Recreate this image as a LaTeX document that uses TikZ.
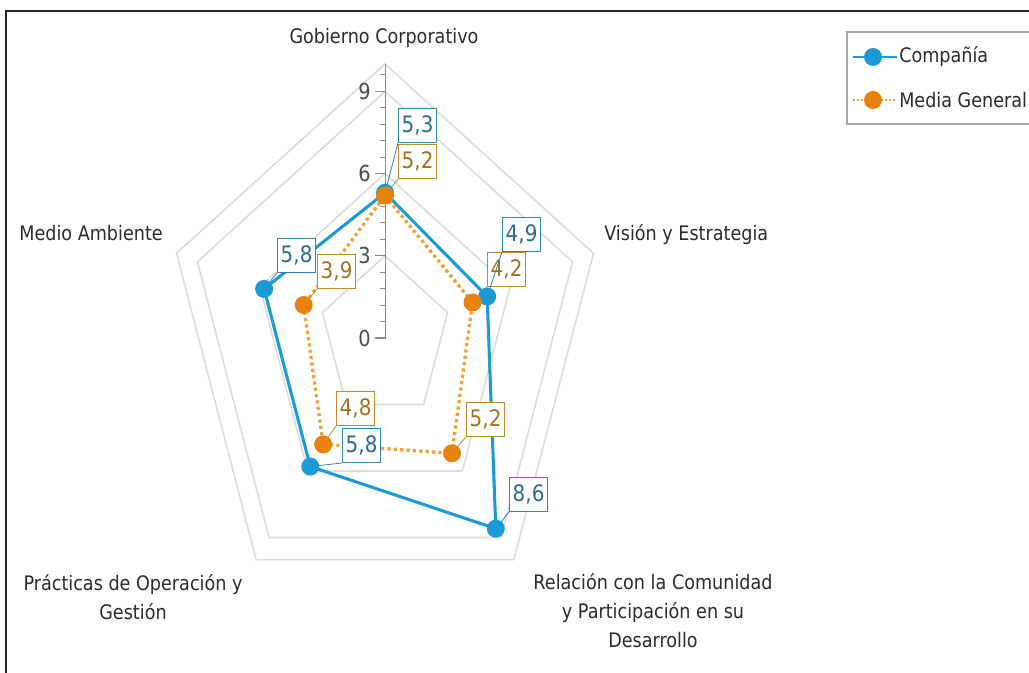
\documentclass[tikz,border=0pt]{standalone}
\usepackage{fontspec}
\setmainfont{DejaVu Sans}[FakeStretch=0.88]
\definecolor{cblue}{HTML}{1C9AD6}
\definecolor{corange}{HTML}{E8820E}
\definecolor{cdot}{HTML}{F0A23A}
\definecolor{bbox}{HTML}{2E87A6}
\definecolor{btext}{HTML}{2A6E88}
\definecolor{obox}{HTML}{BF8A2E}
\definecolor{otext}{HTML}{9C7424}
\definecolor{gridc}{HTML}{DCDCDC}
\definecolor{txt}{HTML}{2C2C2C}
\definecolor{axisc}{HTML}{8A8A8A}
\begin{document}
\begin{tikzpicture}[x=0.75pt,y=-0.75pt,
  font=\fontsize{15}{21.75}\selectfont,
  gridline/.style={draw=gridc,line width=1.2pt},
  bline/.style={draw=cblue,line width=2.3pt,line join=round},
  oline/.style={draw=cdot,line width=2.5pt,dash pattern=on 2.4pt off 2.4pt},
  bdot/.style={circle,fill=cblue,minimum size=13.5pt,inner sep=0pt},
  odot/.style={circle,fill=corange,minimum size=13.5pt,inner sep=0pt},
  blab/.style={draw=bbox,fill=white,text=btext,line width=0.9pt,minimum width=28.5pt,minimum height=25.5pt,inner sep=0pt,anchor=south west,font=\fontsize{17}{20}\selectfont},
  olab/.style={draw=obox,fill=white,text=otext,line width=0.9pt,minimum width=28.5pt,minimum height=25.5pt,inner sep=0pt,anchor=south west,font=\fontsize{17}{20}\selectfont},
  blead/.style={draw=bbox,line width=0.6pt},
  olead/.style={draw=obox,line width=0.6pt},
  axlab/.style={text=txt,inner sep=0pt},
  ticklab/.style={text=txt!85,inner sep=0pt,anchor=east,font=\fontsize{16.5}{20}\selectfont},
  legtext/.style={text=txt,inner sep=0pt,anchor=west}]
\useasboundingbox (0,0) rectangle (1029,673);
\fill[white] (0,0) rectangle (1029,673);
% frame
\draw[black!85,line width=1.6pt] (6,700) -- (6,11) -- (1040,11);
% grid pentagons
\foreach \r in {3,6,9,10}{
  \draw[gridline] ({385+21.92*\r*cos(90)},{338-27.4*\r*sin(90)})
    -- ({385+21.92*\r*cos(18)},{338-27.4*\r*sin(18)})
    -- ({385+21.92*\r*cos(-54)},{338-27.4*\r*sin(-54)})
    -- ({385+21.92*\r*cos(-126)},{338-27.4*\r*sin(-126)})
    -- ({385+21.92*\r*cos(162)},{338-27.4*\r*sin(162)}) -- cycle;
}
% axis
\coordinate (ax0) at (385.5,338);
\coordinate (ax10) at (385.5,64);
\draw[axisc,line width=0.9pt] (ax0) -- (ax10);
\foreach \i in {1,...,16}{
  \draw[axisc,line width=0.8pt] (380,{338-27.4*0.6*\i}) -- (385.5,{338-27.4*0.6*\i});
}
\foreach \v in {0,3,6,9}{
  \draw[axisc,line width=0.8pt] (375,{338-27.4*\v}) -- (385.5,{338-27.4*\v});
  \node[ticklab] (t\v) at (371,{338-27.4*\v}) {\v};
}
% data coordinates
\foreach \n/\a/\v in {c1/90/5.3,c2/18/4.9,c3/-54/8.6,c4/-126/5.8,c5/162/5.8,
                      m1/90/5.2,m2/18/4.2,m3/-54/5.2,m4/-126/4.8,m5/162/3.9}{
  \coordinate (\n) at ({385+21.92*\v*cos(\a)},{338-27.4*\v*sin(\a)});
}
% series lines
\draw[bline] (c1) -- (c2) -- (c3) -- (c4) -- (c5) -- cycle;
\draw[oline] (m1) -- (m2) -- (m3) -- (m4) -- (m5) -- cycle;
% value labels
\node[blab] (lc1) at (398,143) {5,3};
\node[olab] (lm1) at (398,179) {5,2};
\node[blab] (lc2) at (502,252) {4,9};
\node[olab] (lm2) at (487,287) {4,2};
\node[blab] (lc5) at (277,273) {5,8};
\node[olab] (lm5) at (317,289) {3,9};
\node[olab] (lm4) at (336,426) {4,8};
\node[blab] (lc4) at (342,463) {5,8};
\node[olab] (lm3) at (466,437) {5,2};
\node[blab] (lc3) at (509,512) {8,6};
% leaders
\foreach \n in {1,...,5}{
  \draw[blead] (lc\n.south west) -- (c\n);
  \draw[olead] (lm\n.south west) -- (m\n);
}
% dots
\foreach \n in {2,3,4,5}{ \node[bdot] (dc\n) at (c\n) {}; }
\node[bdot] (dc1) at (c1) {};
\foreach \n in {1,...,5}{ \node[odot] (dm\n) at (m\n) {}; }
% axis labels
\node[axlab] (gob) at (384,38) {Gobierno Corporativo};
\node[axlab,anchor=west] (vis) at (604,235) {Visión y Estrategia};
\node[axlab,anchor=east] (med) at (163,233) {Medio Ambiente};
\node[axlab,align=center] (pra) at (133,597) {Prácticas de Operación y\\Gestión};
\node[axlab,align=center] (rel) at (653,611) {Relación con la Comunidad\\y Participación en su\\Desarrollo};
% legend
\draw[draw=black!35,line width=0.9pt] (847,32) rectangle (1040,124);
\coordinate (l1a) at (853,57); \coordinate (l1b) at (897,57);
\coordinate (l2a) at (853,100); \coordinate (l2b) at (897,100);
\draw[bline,line width=1.8pt] (l1a) -- (l1b);
\draw[draw=cdot,line width=1.4pt,dash pattern=on 1.4pt off 1.6pt] (l2a) -- (l2b);
\node[bdot] (ld1) at (873,57) {};
\node[odot] (ld2) at (873,100) {};
\node[legtext] (lt1) at (899,57) {Compañía};
\node[legtext] (lt2) at (899,100) {Media General};
\end{tikzpicture}
\end{document}
